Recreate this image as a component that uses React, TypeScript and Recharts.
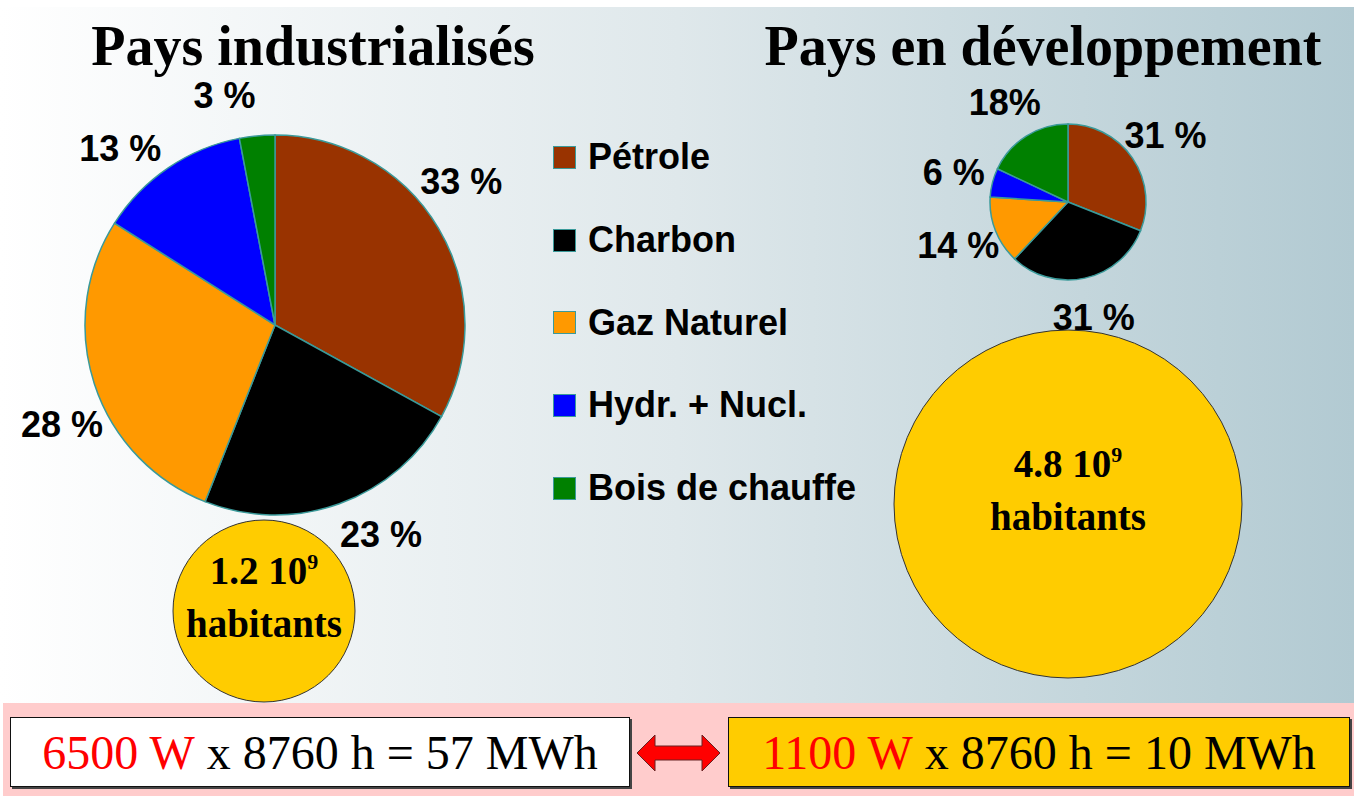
import { PieChart, Pie, Cell } from "recharts";

const categories = ["Pétrole", "Charbon", "Gaz Naturel", "Hydr. + Nucl.", "Bois de chauffe"];
const colors = ["#993300", "#000000", "#ff9900", "#0000ff", "#008000"];

const industrialValues = [33, 23, 28, 13, 3];
const industrialLabels = ["33 %", "23 %", "28 %", "13 %", "3 %"];

const developingValues = [31, 31, 14, 6, 18];
const developingLabels = ["31 %", "31 %", "14 %", "6 %", "18%"];

// population, in 10^9 habitants
const populations = [1.2, 4.8];

const powers = [6500, 1100]; // W per person
const hours = 8760;
const energies = [57, 10]; // MWh

const industrialData = categories.map((name, i) => ({ name, value: industrialValues[i] }));
const developingData = categories.map((name, i) => ({ name, value: developingValues[i] }));

const SANS = "'Liberation Sans', Arial, sans-serif";
const SERIF = "'Liberation Serif', 'Times New Roman', serif";
const EDGE = "#3a9a9a";

const makeLabel = (texts: string[], dist: number, shift: number) => (props: any) => {
  const { cx, cy, midAngle, outerRadius, index } = props;
  const a = ((midAngle + shift) * Math.PI) / 180;
  const r = outerRadius + dist;
  return (
    <text
      x={cx + r * Math.cos(a)}
      y={cy - r * Math.sin(a)}
      textAnchor="middle"
      dominantBaseline="central"
      fontFamily={SANS}
      fontWeight="bold"
      fontSize={36}
      fill="#000"
    >
      {texts[index]}
    </text>
  );
};

const popLabel = (props: any) => {
  const { cx, cy, outerRadius, value } = props;
  return (
    <g>
      <circle cx={cx} cy={cy} r={outerRadius} fill="none" stroke="#333" strokeWidth={1} />
      <text x={cx} y={cy - 27} textAnchor="middle" fontFamily={SERIF} fontWeight="bold" fontSize={39} fill="#000">
        {value} 10<tspan dy={-15} fontSize={22}>9</tspan>
      </text>
      <text x={cx} y={cy + 26} textAnchor="middle" fontFamily={SERIF} fontWeight="bold" fontSize={39} fill="#000">
        habitants
      </text>
    </g>
  );
};

function EnergyBox({ left, width, bg, i }: { left: number; width: number; bg: string; i: number }) {
  return (
    <div
      style={{
        position: "absolute",
        left,
        top: 717,
        width,
        height: 70,
        boxSizing: "border-box",
        background: bg,
        border: "1px solid #111",
        boxShadow: "2px 2px 0 #444",
        display: "flex",
        alignItems: "center",
        justifyContent: "center",
        fontFamily: SERIF,
        fontSize: 48,
        whiteSpace: "pre",
      }}
    >
      <span style={{ color: "#ff0000" }}>{powers[i]} W</span>
      <span style={{ color: "#000" }}> x {hours} h = {energies[i]} MWh</span>
    </div>
  );
}

export default function App() {
  return (
    <div style={{ position: "absolute", left: 0, top: 0, width: 1354, height: 796, background: "#fff", overflow: "hidden" }}>
      <div
        style={{
          position: "absolute",
          left: 0,
          top: 7,
          width: 1354,
          height: 696,
          background: "linear-gradient(to right, #ffffff 0%, #dfe8eb 50%, #b2cad2 100%)",
        }}
      />
      <div style={{ position: "absolute", left: 3, top: 703, width: 1351, height: 93, background: "#ffcccc" }} />

      <div style={{ position: "absolute", left: 0, top: 0 }}>
        <PieChart width={1354} height={703} margin={{ top: 0, right: 0, bottom: 0, left: 0 }}>
          <Pie
            data={industrialData}
            dataKey="value"
            cx={275}
            cy={325}
            outerRadius={190}
            startAngle={90}
            endAngle={-270}
            label={makeLabel(industrialLabels, 45, 7)}
            labelLine={false}
            isAnimationActive={false}
          >
            {industrialData.map((d, i) => (
              <Cell key={d.name} fill={colors[i]} stroke={EDGE} strokeWidth={1.5} />
            ))}
          </Pie>
          <Pie
            data={developingData}
            dataKey="value"
            cx={1068}
            cy={202}
            outerRadius={78}
            startAngle={90}
            endAngle={-270}
            label={makeLabel(developingLabels, 40, 0)}
            labelLine={false}
            isAnimationActive={false}
          >
            {developingData.map((d, i) => (
              <Cell key={d.name} fill={colors[i]} stroke={EDGE} strokeWidth={1.5} />
            ))}
          </Pie>
          <Pie
            data={[{ name: "pop", value: populations[0] }]}
            dataKey="value"
            cx={264}
            cy={611}
            outerRadius={91}
            startAngle={90}
            endAngle={-270}
            fill="#ffcc00"
            stroke="none"
            label={popLabel}
            labelLine={false}
            isAnimationActive={false}
          />
          <Pie
            data={[{ name: "pop", value: populations[1] }]}
            dataKey="value"
            cx={1068}
            cy={504}
            outerRadius={174}
            startAngle={90}
            endAngle={-270}
            fill="#ffcc00"
            stroke="none"
            label={popLabel}
            labelLine={false}
            isAnimationActive={false}
          />
        </PieChart>
      </div>

      {/* legend */}
      <div style={{ position: "absolute", left: 553, top: 116 }}>
        {categories.map((c, i) => (
          <div key={c} style={{ height: 82.7, display: "flex", alignItems: "center" }}>
            <div
              style={{
                width: 23,
                height: 23,
                boxSizing: "border-box",
                background: colors[i],
                border: `1.5px solid ${EDGE}`,
                marginRight: 12,
              }}
            />
            <span style={{ fontFamily: SANS, fontWeight: "bold", fontSize: 36, color: "#000" }}>{c}</span>
          </div>
        ))}
      </div>

      <svg width={1354} height={796} style={{ position: "absolute", left: 0, top: 0, pointerEvents: "none" }}>
        <text x={313} y={65} textAnchor="middle" fontFamily={SERIF} fontWeight="bold" fontSize={56} fill="#000">
          Pays industrialisés
        </text>
        <text x={1043} y={65} textAnchor="middle" fontFamily={SERIF} fontWeight="bold" fontSize={56} fill="#000">
          Pays en développement
        </text>
        <polygon
          points="637,753 655,735 655,746 702,746 702,735 720,753 702,771 702,760 655,760 655,771"
          fill="#ff0000"
          stroke="#662222"
          strokeWidth={1}
        />
      </svg>

      <EnergyBox left={10} width={620} bg="#ffffff" i={0} />
      <EnergyBox left={728} width={622} bg="#ffcc00" i={1} />
    </div>
  );
}
